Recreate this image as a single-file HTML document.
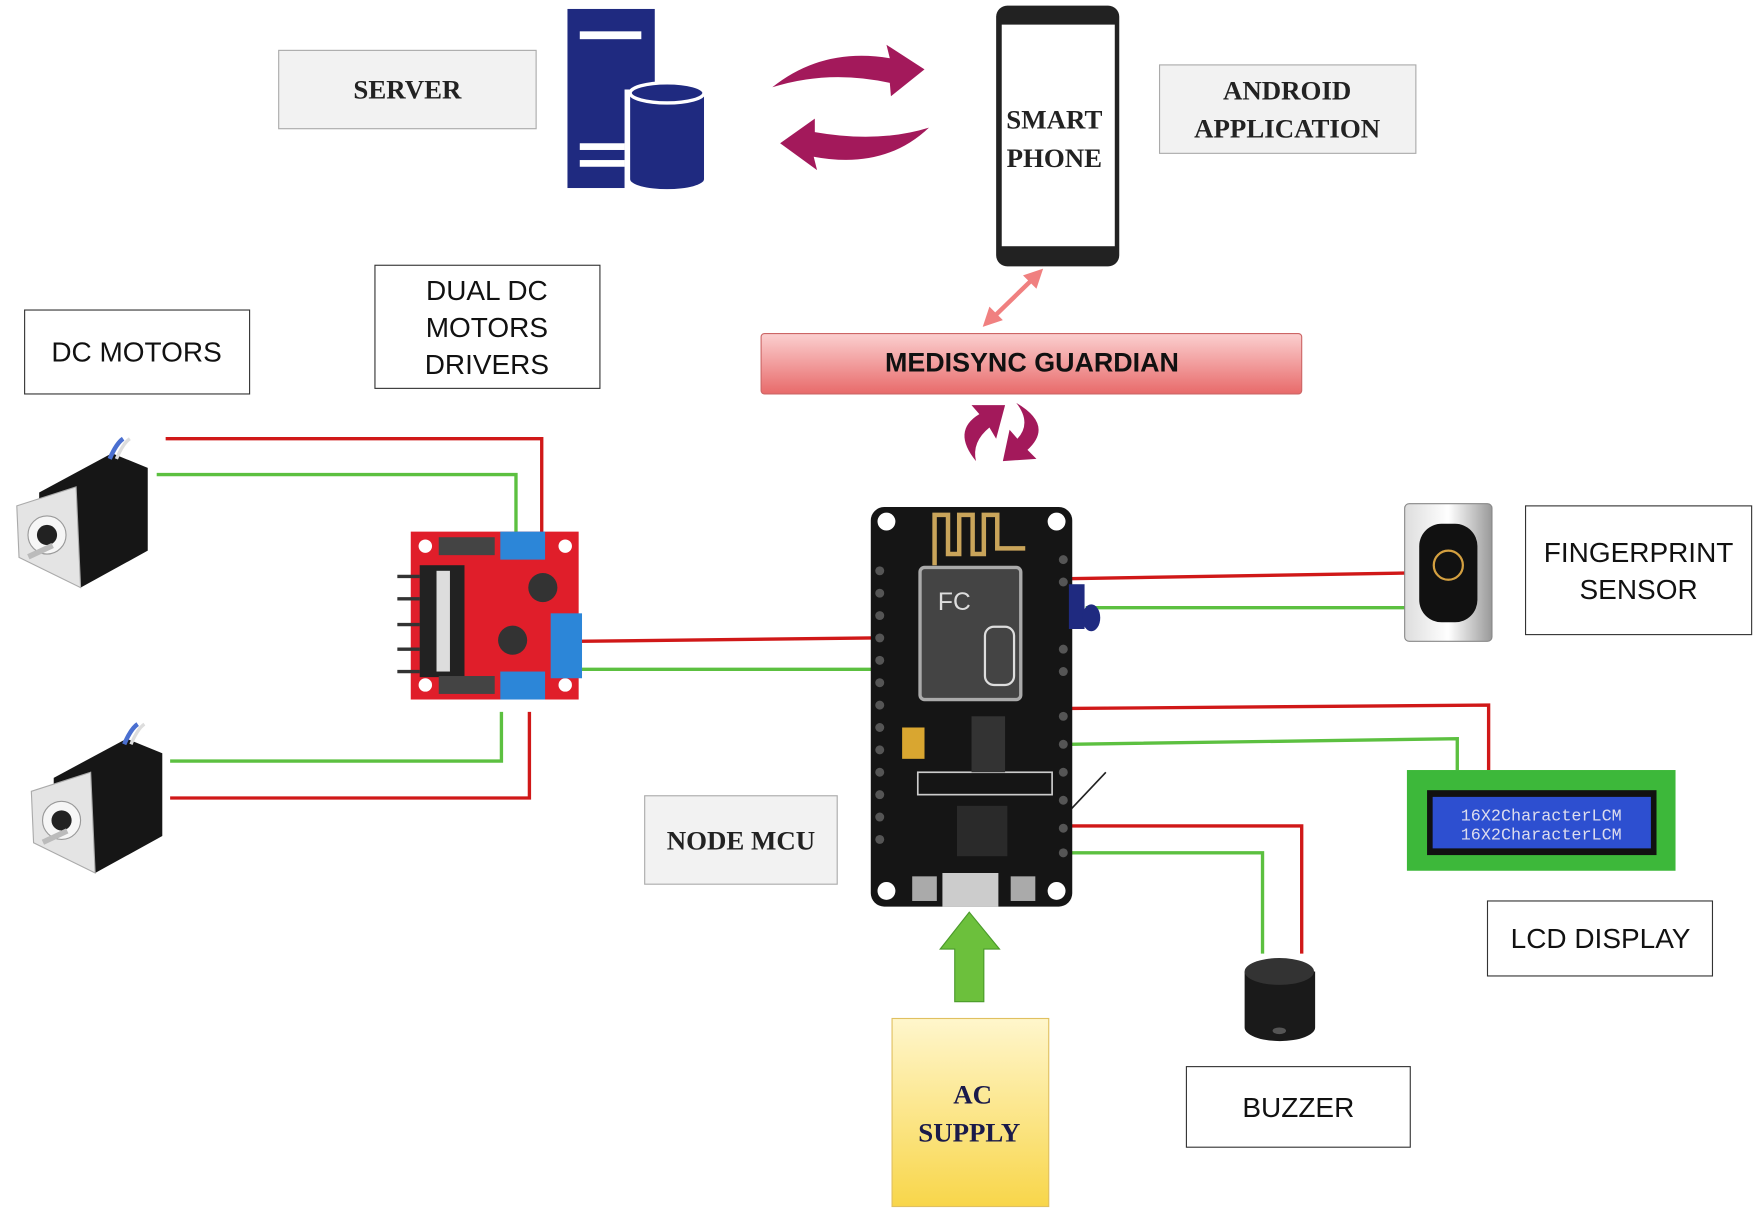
<!DOCTYPE html>
<html><head><meta charset="utf-8"><style>html,body{margin:0;padding:0;background:#fff}svg{display:block}</style></head>
<body>
<svg width="1755" height="1211" viewBox="0 0 1568 1082" preserveAspectRatio="none" xmlns="http://www.w3.org/2000/svg">
<defs>
<linearGradient id="pk" x1="0" y1="0" x2="0" y2="1"><stop offset="0" stop-color="#fbd0d0"/><stop offset="1" stop-color="#e86a6a"/></linearGradient>
<linearGradient id="yl" x1="0" y1="0" x2="0" y2="1"><stop offset="0" stop-color="#fff6cc"/><stop offset="1" stop-color="#f8d64a"/></linearGradient>
<linearGradient id="mt" x1="0" y1="0" x2="1" y2="0"><stop offset="0" stop-color="#ddd"/><stop offset="0.5" stop-color="#fff"/><stop offset="1" stop-color="#999"/></linearGradient>
</defs>
<style>
.sf{font-family:"Liberation Serif",serif;font-weight:bold;fill:#222}
.ss{font-family:"Liberation Sans",sans-serif;fill:#111}
</style>
<!-- server -->
<rect x="249" y="45" width="230" height="70" fill="#f2f2f2" stroke="#aaa"/>
<text x="364" y="88" text-anchor="middle" class="sf" font-size="24">SERVER</text>
<rect x="507" y="8" width="78" height="160" fill="#1f2a80"/>
<rect x="518" y="28" width="55" height="7" fill="#fff"/>
<rect x="518" y="128" width="40" height="6" fill="#fff"/><rect x="518" y="143" width="40" height="6" fill="#fff"/>
<path d="M558 80 v90 h76 v-90 z" fill="#fff"/>
<path d="M563 85 v75 a33 9 0 0 0 66 0 v-75 z" fill="#1f2a80"/>
<ellipse cx="596" cy="83" rx="33" ry="9" fill="#1f2a80" stroke="#fff" stroke-width="3"/>
<!-- arrows -->
<path d="M690 78 Q735 42 795 52 L792 40 L826 62 L796 86 L795 74 Q740 62 690 78 z" fill="#a3195b"/>
<path d="M830 114 Q790 152 727 140 L730 152 L697 128 L728 106 L728 118 Q785 128 830 114 z" fill="#a3195b"/>
<!-- phone -->
<rect x="890" y="5" width="110" height="233" rx="10" fill="#222"/>
<rect x="895" y="22" width="101" height="198" fill="#fff"/>
<text x="942" y="115" text-anchor="middle" class="sf" font-size="24">SMART</text>
<text x="942" y="149" text-anchor="middle" class="sf" font-size="24">PHONE</text>
<rect x="1036" y="58" width="229" height="79" fill="#f2f2f2" stroke="#aaa"/>
<text x="1150" y="89" text-anchor="middle" class="sf" font-size="24">ANDROID</text>
<text x="1150" y="123" text-anchor="middle" class="sf" font-size="24">APPLICATION</text>
<!-- pink double arrow -->
<line x1="922" y1="250" x2="888" y2="283" stroke="#f08080" stroke-width="4"/>
<polygon points="932,240 914,246 926,258" fill="#f08080"/><polygon points="878,292 884,274 896,286" fill="#f08080"/>
<!-- medisync -->
<rect x="680" y="298" width="483" height="54" rx="3" fill="url(#pk)" stroke="#c66"/>
<text x="922" y="332" text-anchor="middle" class="ss" font-weight="bold" font-size="24">MEDISYNC GUARDIAN</text>
<path d="M872 412 Q850 385 875 370 L868 362 L898 362 L890 392 L884 382 Q868 395 872 412z" fill="#a3195b"/>
<path d="M908 360 Q942 380 918 402 L926 410 L896 412 L902 384 L909 392 Q922 378 908 360z" fill="#a3195b"/>
<!-- labels left -->
<rect x="22" y="277" width="201" height="75" fill="#fff" stroke="#333"/>
<text x="122" y="323" text-anchor="middle" class="ss" font-size="25">DC MOTORS</text>
<rect x="335" y="237" width="201" height="110" fill="#fff" stroke="#333"/>
<text x="435" y="268" text-anchor="middle" class="ss" font-size="25">DUAL DC</text>
<text x="435" y="301" text-anchor="middle" class="ss" font-size="25">MOTORS</text>
<text x="435" y="334" text-anchor="middle" class="ss" font-size="25">DRIVERS</text>
<!-- wires -->
<g fill="none" stroke-width="3">
<polyline points="148,392 484,392 484,478" stroke="#d01818"/>
<polyline points="140,424 461,424 461,478" stroke="#5cc040"/>
<polyline points="152,680 448,680 448,636" stroke="#5cc040"/>
<polyline points="152,713 473,713 473,636" stroke="#d01818"/>
<line x1="515" y1="573" x2="780" y2="570" stroke="#d01818"/>
<line x1="515" y1="598" x2="780" y2="598" stroke="#5cc040"/>
<line x1="955" y1="517" x2="1255" y2="512" stroke="#d01818"/>
<line x1="970" y1="543" x2="1255" y2="543" stroke="#5cc040"/>
<polyline points="955,633 1330,630 1330,688" stroke="#d01818"/>
<polyline points="955,665 1302,660 1302,688" stroke="#5cc040"/>
<polyline points="955,738 1163,738 1163,852" stroke="#d01818"/>
<polyline points="955,762 1128,762 1128,852" stroke="#5cc040"/>
</g>
<line x1="955" y1="725" x2="988" y2="690" stroke="#222" stroke-width="1.5"/>
<!-- motors -->
<g id="m1">
<polygon points="35,440 100,405 132,418 132,492 72,525 35,505" fill="#161616"/>
<polygon points="15,452 68,435 72,525 17,498" fill="#e4e4e4" stroke="#aaa"/>
<circle cx="42" cy="478" r="17" fill="#f6f6f6" stroke="#999"/>
<circle cx="42" cy="478" r="9" fill="#222"/>
<rect x="24" y="490" width="24" height="5" fill="#bbb" transform="rotate(-25 36 492)"/>
<path d="M98 410 q6 -14 12 -18" stroke="#4a6fd0" stroke-width="4" fill="none"/>
<path d="M104 410 q6 -14 12 -18" stroke="#ddd" stroke-width="3" fill="none"/>
</g>
<use href="#m1" transform="translate(13,255)"/>
<!-- driver board -->
<rect x="367" y="475" width="150" height="150" fill="#e01e2a"/>
<circle cx="380" cy="488" r="6" fill="#fff"/><circle cx="505" cy="488" r="6" fill="#fff"/><circle cx="380" cy="612" r="6" fill="#fff"/><circle cx="505" cy="612" r="6" fill="#fff"/>
<rect x="375" y="505" width="40" height="100" fill="#222"/><rect x="390" y="510" width="12" height="90" fill="#ddd"/>
<g stroke="#333" stroke-width="3"><line x1="355" y1="515" x2="375" y2="515"/><line x1="355" y1="535" x2="375" y2="535"/><line x1="355" y1="558" x2="375" y2="558"/><line x1="355" y1="580" x2="375" y2="580"/><line x1="355" y1="600" x2="375" y2="600"/></g>
<rect x="447" y="475" width="40" height="25" fill="#2c86d8"/><rect x="447" y="600" width="40" height="25" fill="#2c86d8"/><rect x="492" y="548" width="28" height="58" fill="#2c86d8"/>
<circle cx="485" cy="525" r="13" fill="#333"/><circle cx="458" cy="572" r="13" fill="#333"/>
<rect x="392" y="480" width="50" height="16" fill="#444"/><rect x="392" y="604" width="50" height="16" fill="#444"/>
<!-- nodemcu -->
<rect x="778" y="453" width="180" height="357" rx="12" fill="#151515"/>
<g fill="#555"><circle cx="786" cy="510" r="4"/><circle cx="786" cy="530" r="4"/><circle cx="786" cy="550" r="4"/><circle cx="786" cy="570" r="4"/><circle cx="786" cy="590" r="4"/><circle cx="786" cy="610" r="4"/><circle cx="786" cy="630" r="4"/><circle cx="786" cy="650" r="4"/><circle cx="786" cy="670" r="4"/><circle cx="786" cy="690" r="4"/><circle cx="786" cy="710" r="4"/><circle cx="786" cy="730" r="4"/><circle cx="786" cy="750" r="4"/>
<circle cx="950" cy="500" r="4"/><circle cx="950" cy="520" r="4"/><circle cx="950" cy="580" r="4"/><circle cx="950" cy="600" r="4"/><circle cx="950" cy="640" r="4"/><circle cx="950" cy="665" r="4"/><circle cx="950" cy="690" r="4"/><circle cx="950" cy="715" r="4"/><circle cx="950" cy="740" r="4"/><circle cx="950" cy="762" r="4"/></g>
<path d="M835 505 v-45 h12 v35 h10 v-35 h12 v35 h10 v-35 h12 v30 h25" stroke="#c9a45a" stroke-width="4" fill="none"/>
<rect x="822" y="507" width="90" height="118" rx="4" fill="#444" stroke="#aaa" stroke-width="3"/>
<text x="838" y="545" class="ss" font-size="22" style="fill:#ddd">FC</text>
<rect x="880" y="560" width="26" height="52" rx="8" fill="none" stroke="#ddd" stroke-width="2"/>
<rect x="820" y="690" width="120" height="20" fill="none" stroke="#ccc" stroke-width="1.5"/>
<rect x="855" y="720" width="45" height="45" fill="#2a2a2a"/>
<rect x="806" y="650" width="20" height="28" fill="#d9a630"/>
<rect x="868" y="640" width="30" height="50" fill="#333"/>
<rect x="842" y="780" width="50" height="30" fill="#ccc"/>
<rect x="815" y="783" width="22" height="22" fill="#aaa"/><rect x="903" y="783" width="22" height="22" fill="#aaa"/>
<circle cx="792" cy="466" r="8" fill="#fff"/><circle cx="944" cy="466" r="8" fill="#fff"/><circle cx="792" cy="796" r="8" fill="#fff"/><circle cx="944" cy="796" r="8" fill="#fff"/>
<rect x="955" y="522" width="14" height="40" fill="#1f2a80"/><ellipse cx="975" cy="552" rx="8" ry="12" fill="#1f2a80"/>
<!-- fingerprint -->
<rect x="1255" y="450" width="78" height="123" rx="4" fill="url(#mt)" stroke="#888"/>
<rect x="1268" y="468" width="52" height="88" rx="20" fill="#111"/>
<circle cx="1294" cy="505" r="13" fill="none" stroke="#d4a040" stroke-width="2"/>
<rect x="1363" y="452" width="202" height="115" fill="#fff" stroke="#333"/>
<text x="1464" y="502" text-anchor="middle" class="ss" font-size="25">FINGERPRINT</text>
<text x="1464" y="535" text-anchor="middle" class="ss" font-size="25">SENSOR</text>
<!-- LCD -->
<rect x="1257" y="688" width="240" height="90" fill="#3db83a"/>
<rect x="1275" y="706" width="205" height="58" fill="#111"/>
<rect x="1280" y="712" width="195" height="46" fill="#2d4fd0"/>
<text x="1377" y="733" text-anchor="middle" font-family="Liberation Mono,monospace" font-size="15" fill="#dde">16X2CharacterLCM</text>
<text x="1377" y="750" text-anchor="middle" font-family="Liberation Mono,monospace" font-size="15" fill="#dde">16X2CharacterLCM</text>
<rect x="1329" y="805" width="201" height="67" fill="#fff" stroke="#333"/>
<text x="1430" y="847" text-anchor="middle" class="ss" font-size="25">LCD DISPLAY</text>
<!-- buzzer -->
<path d="M1112 868 v50 a31 12 0 0 0 63 0 v-50 z" fill="#1a1a1a"/>
<ellipse cx="1143" cy="868" rx="31" ry="12" fill="#333"/>
<ellipse cx="1143" cy="921" rx="6" ry="3" fill="#555"/>
<rect x="1060" y="953" width="200" height="72" fill="#fff" stroke="#333"/>
<text x="1160" y="998" text-anchor="middle" class="ss" font-size="25">BUZZER</text>
<!-- node mcu label -->
<rect x="576" y="711" width="172" height="79" fill="#f2f2f2" stroke="#aaa"/>
<text x="662" y="759" text-anchor="middle" class="sf" font-size="24">NODE MCU</text>
<!-- green arrow -->
<polygon points="866,815 893,848 879,848 879,895 853,895 853,848 840,848" fill="#6cc03c" stroke="#4a9a2a"/>
<!-- ac supply -->
<rect x="797" y="910" width="140" height="168" fill="url(#yl)" stroke="#e0c060"/>
<text x="869" y="986" text-anchor="middle" class="sf" font-size="24" style="fill:#1a1a4a">AC</text>
<text x="866" y="1020" text-anchor="middle" class="sf" font-size="24" style="fill:#1a1a4a">SUPPLY</text>
</svg>
</body></html>
